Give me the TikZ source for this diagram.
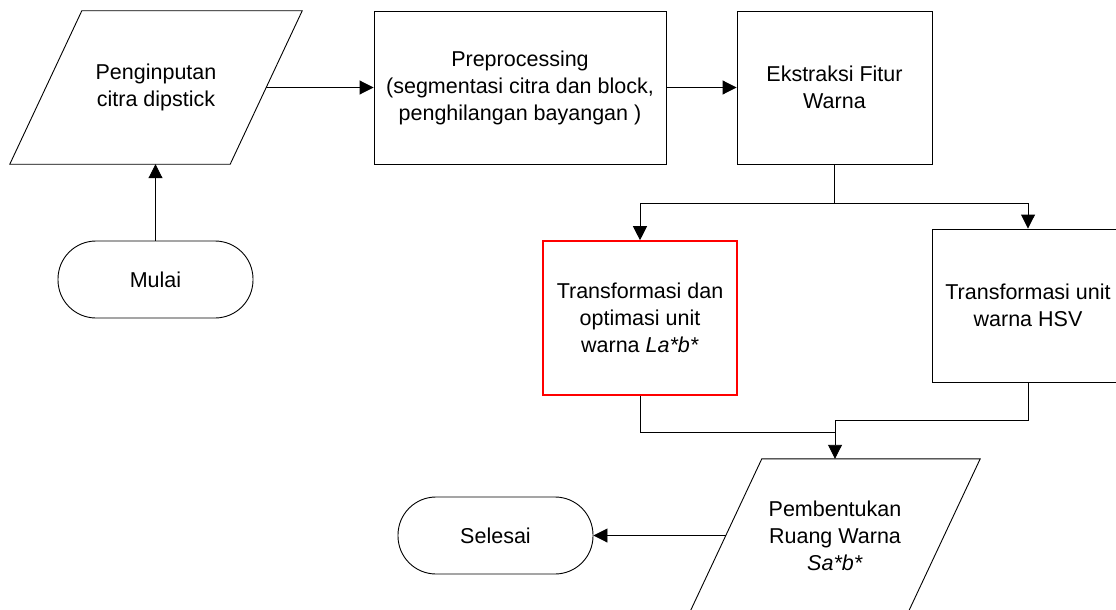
\documentclass[tikz,border=0pt]{standalone}
\usepackage{fontspec}
\setmainfont{Liberation Sans}
\usetikzlibrary{arrows.meta,calc}
\begin{document}
\begin{tikzpicture}[x=1pt,y=-1pt,
  every node/.style={font=\fontsize{21.5}{27}\selectfont, align=center},
  line/.style={line width=0.9pt},
  procbox/.style={rectangle, draw, line width=0.9pt, inner sep=0pt, minimum height=153pt},
  iobox/.style={rectangle, inner sep=0pt, minimum width=220pt, minimum height=153pt},
  term/.style={rectangle, draw, line width=0.9pt, rounded corners=38pt, minimum width=195pt, minimum height=77pt, inner sep=0pt},
  arr/.style={line, -{Triangle[length=14pt,width=14pt]}}]
\clip (0,0) rectangle (1116,610);
% nodes
\node[iobox] (in) at (156,87.5) {Penginputan\\citra dipstick};
\draw[line] ([xshift=36pt]in.north west) -- ([xshift=36pt]in.north east) -- ([xshift=-36pt]in.south east) -- ([xshift=-36pt]in.south west) -- cycle;
\node[procbox, minimum width=292pt] (pre) at (520,87.5) {Preprocessing\\(segmentasi citra dan block,\\penghilangan bayangan )};
\node[procbox, minimum width=195pt] (ext) at (834.5,87.5) {Ekstraksi Fitur\\Warna};
\node[procbox, draw=red, line width=1.6pt, minimum width=194pt, minimum height=154pt] (lab) at (640,318) {Transformasi dan\\optimasi unit\\warna \textit{La*b*}};
\node[procbox, minimum width=192pt] (hsv) at (1028,305.5) {Transformasi unit\\warna HSV};
\node[iobox, minimum width=218pt] (out) at (835,535.5) {Pembentukan\\Ruang Warna\\\textit{Sa*b*}};
\draw[line] ([xshift=36pt]out.north west) -- ([xshift=36pt]out.north east) -- ([xshift=-36pt]out.south east) -- ([xshift=-36pt]out.south west) -- cycle;
\node[term] (mulai) at (155.5,279.5) {Mulai};
\node[term] (selesai) at (495.5,535.5) {Selesai};
% connectors
\draw[arr] (in.east) -- (pre.west);
\draw[arr] (pre.east) -- (ext.west);
\draw[arr] (mulai.north) -- (mulai.north |- in.south);
\coordinate (split) at ($(ext.south)+(0,39)$);
\draw[arr] (ext.south) -- (split) -| (lab.north);
\draw[arr] (split) -| (hsv.north);
\coordinate (merge) at ($(out.north)+(0,-38)$);
\coordinate (join) at ($(out.north)+(0,-26)$);
\draw[arr] (hsv.south) |- (merge) -- (out.north);
\draw[line] (lab.south) |- (join);
\draw[arr] (out.west) -- (selesai.east);
\end{tikzpicture}
\end{document}
